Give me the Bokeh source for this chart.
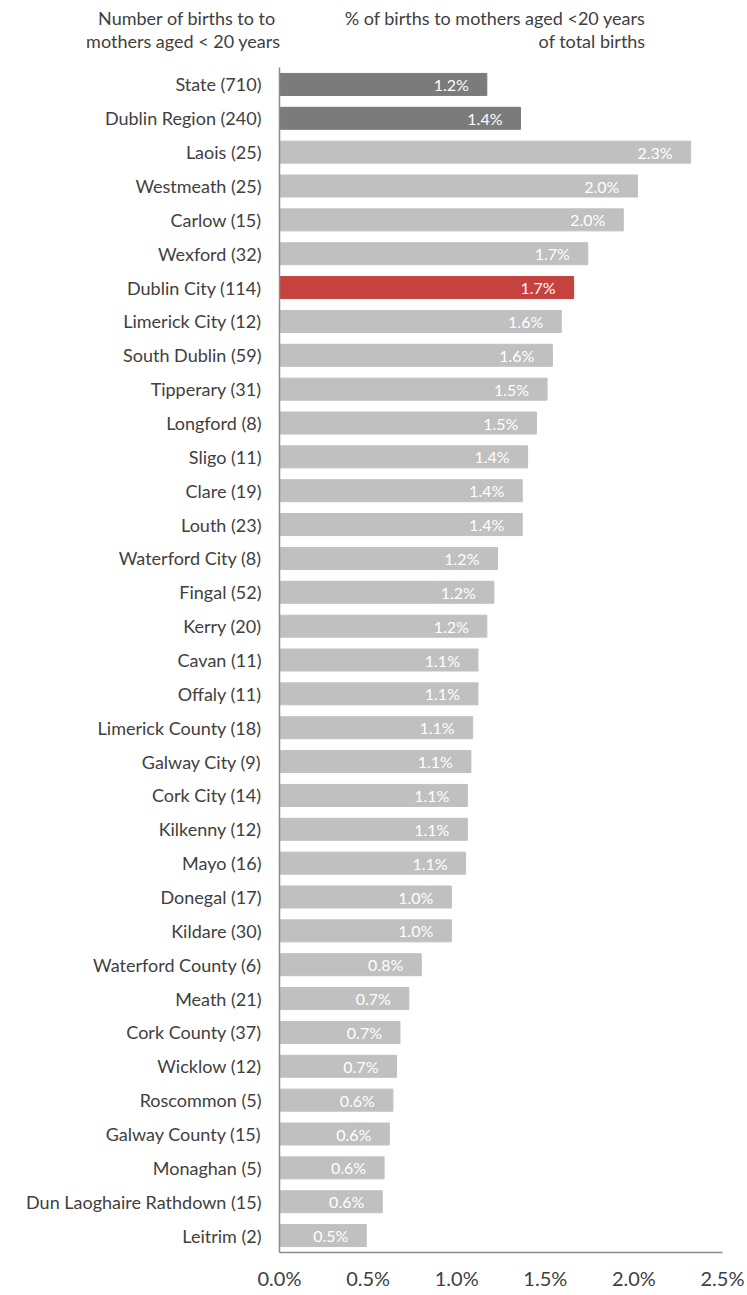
from bokeh.plotting import figure
from bokeh.layouts import column
from bokeh.models import ColumnDataSource, NumeralTickFormatter, FixedTicker, Range1d
from bokeh.core.properties import value
from bokeh.embed import file_html
from bokeh.resources import INLINE

areas = ["State (710)", "Dublin Region (240)", "Laois (25)", "Westmeath (25)", "Carlow (15)",
         "Wexford (32)", "Dublin City (114)", "Limerick City (12)", "South Dublin (59)",
         "Tipperary (31)", "Longford (8)", "Sligo (11)", "Clare (19)", "Louth (23)",
         "Waterford City (8)", "Fingal (52)", "Kerry (20)", "Cavan (11)", "Offaly (11)",
         "Limerick County (18)", "Galway City (9)", "Cork City (14)", "Kilkenny (12)",
         "Mayo (16)", "Donegal (17)", "Kildare (30)", "Waterford County (6)", "Meath (21)",
         "Cork County (37)", "Wicklow (12)", "Roscommon (5)", "Galway County (15)",
         "Monaghan (5)", "Dun Laoghaire Rathdown (15)", "Leitrim (2)"]
pct = [1.17, 1.36, 2.32, 2.02, 1.94, 1.74, 1.66, 1.59, 1.54, 1.51, 1.45, 1.40, 1.37, 1.37,
       1.23, 1.21, 1.17, 1.12, 1.12, 1.09, 1.08, 1.06, 1.06, 1.05, 0.97, 0.97, 0.80, 0.73,
       0.68, 0.66, 0.64, 0.62, 0.59, 0.58, 0.49]
pct_labels = ["1.2%", "1.4%", "2.3%", "2.0%", "2.0%", "1.7%", "1.7%", "1.6%", "1.6%", "1.5%",
              "1.5%", "1.4%", "1.4%", "1.4%", "1.2%", "1.2%", "1.2%", "1.1%", "1.1%", "1.1%",
              "1.1%", "1.1%", "1.1%", "1.1%", "1.0%", "1.0%", "0.8%", "0.7%", "0.7%", "0.7%",
              "0.6%", "0.6%", "0.6%", "0.6%", "0.5%"]
x_ticks = [0.0, 0.005, 0.01, 0.015, 0.02, 0.025]
header_left = ["Number of births  to to", "mothers aged < 20 years"]
header_right = ["% of births to mothers aged <20 years", "of total births"]

colors = []
for a in areas:
    if a.startswith("State") or a.startswith("Dublin Region"):
        colors.append("#7b7b7b")
    elif a.startswith("Dublin City"):
        colors.append("#c5423f")
    else:
        colors.append("#c0c0c0")

src = ColumnDataSource(dict(area=areas, val=[v / 100 for v in pct], lab=pct_labels, color=colors))

FONT = "Lato"
W = 745
LEFT = 279
FW = 443
FH = 1185
HDR_H = 46

# ---- header strip (left block = axis labels, right block = text inside frame)
h = figure(y_range=list(reversed(header_left)), x_range=Range1d(0, FW),
           frame_width=FW, frame_height=HDR_H, output_backend="svg", toolbar_location=None,
           min_border_left=LEFT, min_border_right=W - LEFT - FW, min_border_top=6,
           min_border_bottom=0, x_axis_location=None)
h.y_range.range_padding = 0
h.grid.visible = False
h.outline_line_color = None
h.yaxis.axis_line_color = None
h.yaxis.major_tick_line_color = None
h.yaxis.minor_tick_line_color = None
h.yaxis.major_label_standoff = -7
h.yaxis.major_label_text_font = FONT
h.yaxis.major_label_text_font_size = "18px"
h.yaxis.major_label_text_color = "#404040"
h.text(x=[366, 366], y=header_left, text=header_right, text_align="right",
       text_baseline="middle", text_font=value(FONT), text_font_size="18px",
       text_color="#404040")

# ---- main chart
p = figure(y_range=list(reversed(areas)), x_range=(0, 0.025),
           frame_width=FW, frame_height=FH, output_backend="svg", toolbar_location=None,
           min_border_left=LEFT, min_border_right=W - LEFT - FW, min_border_top=15,
           min_border_bottom=0)
p.y_range.range_padding = 0
p.outline_line_color = None
p.grid.grid_line_color = None

p.hbar(y="area", right="val", left=0, height=0.65, color="color", source=src)
p.text(x="val", y="area", text="lab", source=src, x_offset=-18, text_align="right",
       text_baseline="middle", text_color="white", text_font_size="16px", text_font=value(FONT))

p.xaxis.ticker = FixedTicker(ticks=x_ticks)
p.xaxis.formatter = NumeralTickFormatter(format="0.0%")
p.xaxis.major_tick_line_color = None
p.xaxis.minor_tick_line_color = None
p.xaxis.axis_line_color = "#8c8c8c"
p.xaxis.axis_line_width = 1.5
p.xaxis.major_label_text_font_size = "20px"
p.xaxis.major_label_text_font = FONT
p.xaxis.major_label_text_color = "#404040"
p.xaxis.major_label_standoff = 7

p.yaxis.major_tick_line_color = None
p.yaxis.minor_tick_line_color = None
p.yaxis.axis_line_color = "#8c8c8c"
p.yaxis.axis_line_width = 1.5
p.yaxis.major_label_text_font_size = "18px"
p.yaxis.major_label_text_font = FONT
p.yaxis.major_label_text_color = "#404040"
p.yaxis.major_label_standoff = 12

layout = column(h, p, spacing=0)
open("out.html", "w").write(file_html(layout, INLINE))
